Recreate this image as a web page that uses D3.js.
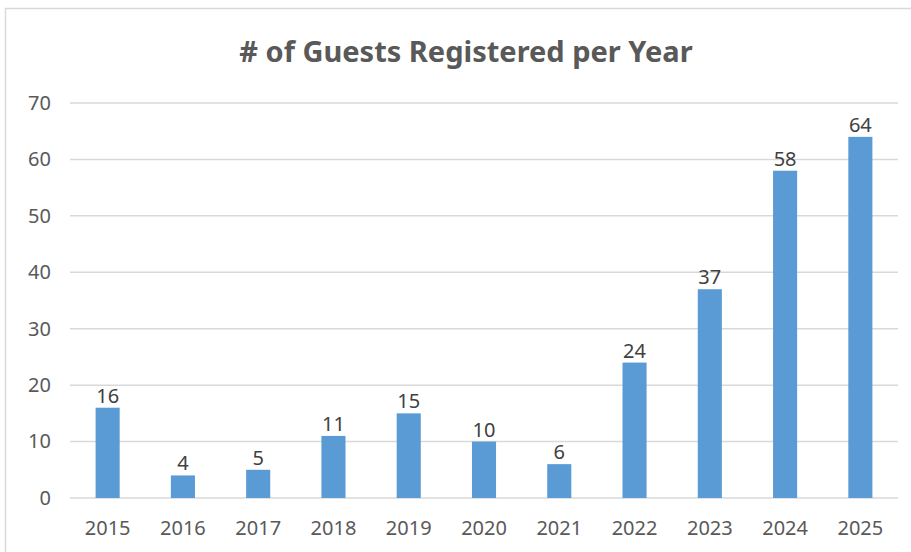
<!DOCTYPE html>
<html>
<head>
<meta charset="utf-8">
<script src="https://cdn.jsdelivr.net/npm/d3@7"></script>
<style>
  body { margin: 0; background: #fff; }
  text { font-family: "Noto Sans", "Open Sans", sans-serif; }
</style>
</head>
<body>
<svg width="911" height="552"></svg>
<script>
var years = ["2015", "2016", "2017", "2018", "2019", "2020", "2021", "2022", "2023", "2024", "2025"];
var guests = [16, 4, 5, 11, 15, 10, 6, 24, 37, 58, 64];
var yTicks = [0, 10, 20, 30, 40, 50, 60, 70];
var title = "# of Guests Registered per Year";

var svg = d3.select("svg"),
    margin = {top: 103, right: 13, bottom: 54, left: 70},
    width = +svg.attr("width") - margin.left - margin.right,
    height = +svg.attr("height") - margin.top - margin.bottom;

// chart frame
svg.append("rect")
    .attr("x", 5.5).attr("y", 8.5)
    .attr("width", 920).attr("height", 560)
    .attr("fill", "none")
    .attr("stroke", "#d9d9d9")
    .attr("stroke-width", 1.5);

svg.append("text")
    .attr("x", 466).attr("y", 62)
    .attr("text-anchor", "middle")
    .attr("fill", "#595959")
    .style("font-size", "29px")
    .style("font-weight", "bold")
    .text(title);

var g = svg.append("g").attr("transform", "translate(" + margin.left + "," + margin.top + ")");

var x = d3.scaleBand()
    .domain(years)
    .range([0, width])
    .paddingInner(0.68)
    .paddingOuter(0.34);

var y = d3.scaleLinear()
    .domain([0, 70])
    .range([height, 0]);

// gridlines
g.append("g")
    .selectAll("line")
    .data(yTicks)
    .enter().append("line")
    .attr("x1", 0).attr("x2", width)
    .attr("y1", function(d) { return y(d); })
    .attr("y2", function(d) { return y(d); })
    .attr("stroke", "#d9d9d9")
    .attr("stroke-width", 1.5);

// y axis labels
var yAxis = g.append("g")
    .call(d3.axisLeft(y).tickValues(yTicks).tickSize(0).tickPadding(19));
yAxis.select(".domain").remove();
yAxis.selectAll("text")
    .attr("fill", "#595959")
    .style("font-size", "20px");

// x axis labels
var xAxis = g.append("g")
    .attr("transform", "translate(0," + height + ")")
    .call(d3.axisBottom(x).tickSize(0).tickPadding(23));
xAxis.select(".domain").remove();
xAxis.selectAll("text")
    .attr("fill", "#595959")
    .style("font-size", "20px");

// bars
g.selectAll(".bar")
    .data(guests)
    .enter().append("rect")
    .attr("class", "bar")
    .attr("x", function(d, i) { return x(years[i]); })
    .attr("y", function(d) { return y(d); })
    .attr("width", x.bandwidth())
    .attr("height", function(d) { return height - y(d); })
    .attr("fill", "#5b9bd5");

// value labels
g.selectAll(".label")
    .data(guests)
    .enter().append("text")
    .attr("class", "label")
    .attr("x", function(d, i) { return x(years[i]) + x.bandwidth() / 2; })
    .attr("y", function(d) { return y(d) - 5; })
    .attr("text-anchor", "middle")
    .attr("fill", "#404040")
    .style("font-size", "20px")
    .text(function(d) { return d; });
</script>
</body>
</html>
